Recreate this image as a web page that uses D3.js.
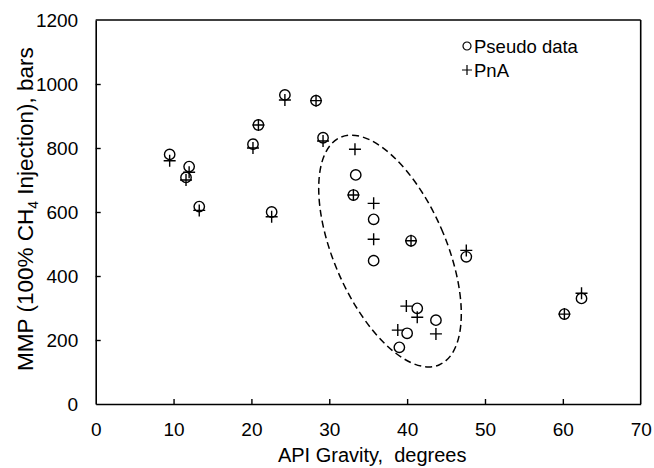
<!DOCTYPE html>
<html>
<head>
<meta charset="utf-8">
<script src="https://cdn.jsdelivr.net/npm/d3@7"></script>
<style>
  body { margin: 0; background: #fff; }
  svg text { font-family: "Liberation Sans", Arial, sans-serif; fill: #000; }
</style>
</head>
<body>
<svg id="chart" width="654" height="468"></svg>
<script>
// pseudo data (circles)
let pseudoX = [9.5, 12.0, 11.6, 13.3, 20.2, 20.9, 22.6, 24.3, 28.3, 29.2, 33.4, 33.1, 35.7, 35.7, 40.5, 47.6, 41.3, 43.7, 40.0, 39.0, 60.2, 62.4];
let pseudoY = [780, 742, 708, 617, 812, 872, 600, 966, 948, 832, 716, 653, 577, 448, 510, 460, 299, 262, 221, 177, 281, 330];
// PnA (plus signs)
let pnaX = [9.5, 12.0, 11.6, 13.3, 20.2, 20.9, 22.6, 24.3, 28.3, 29.2, 33.3, 33.1, 35.7, 35.7, 40.5, 47.6, 39.9, 41.3, 43.7, 38.8, 60.2, 62.4];
let pnaY = [760, 724, 700, 605, 800, 872, 585, 950, 948, 822, 796, 653, 627, 515, 510, 480, 306, 271, 219, 231, 281, 346];

let xTicks = [0, 10, 20, 30, 40, 50, 60, 70];
let yTicks = [0, 200, 400, 600, 800, 1000, 1200];

const margin = {left: 95.7, top: 20, right: 13.3, bottom: 64};
const W = 654 - margin.left - margin.right;
const H = 468 - margin.top - margin.bottom;

let svg = d3.select('#chart');
let g = svg.append('g').attr('transform', 'translate(' + margin.left + ',' + margin.top + ')');

let x = d3.scaleLinear().domain([0, 70]).range([0, W]);
let y = d3.scaleLinear().domain([0, 1200]).range([H, 0]);

// axes, ticks point inward
let xAxis = d3.axisBottom(x).tickValues(xTicks).tickFormat(d3.format('d')).tickSizeInner(-5).tickSizeOuter(0).tickPadding(18.5);
let yAxis = d3.axisLeft(y).tickValues(yTicks).tickFormat(d3.format('d')).tickSizeInner(-5).tickSizeOuter(0).tickPadding(17.5);

let gx = g.append('g').attr('transform', 'translate(0,' + H + ')').call(xAxis);
let gy = g.append('g').call(yAxis);
[gx, gy].forEach(a => {
  a.selectAll('path').attr('stroke', '#000').attr('stroke-width', 1.6);
  a.selectAll('line').attr('stroke', '#000').attr('stroke-width', 1.4);
  a.selectAll('text').attr('font-size', 19).attr('font-family', '"Liberation Sans", Arial, sans-serif').attr('fill', '#000');
});
gx.selectAll('.tick').filter(d => d == 0 || d == 70).select('line').remove();
gy.selectAll('.tick').filter(d => d == 0 || d == 1200).select('line').remove();

// frame top and right
g.append('line').attr('x1', 0).attr('x2', W).attr('y1', 0).attr('y2', 0).attr('stroke', '#000').attr('stroke-width', 1.6);
g.append('line').attr('x1', W).attr('x2', W).attr('y1', 0).attr('y2', H).attr('stroke', '#000').attr('stroke-width', 1.6);

// dashed ellipse round the cluster
let ellCx = 37.8, ellCy = 478;
g.append('ellipse')
  .attr('cx', 0).attr('cy', 0).attr('rx', 56).attr('ry', 124)
  .attr('transform', 'translate(' + x(ellCx) + ',' + y(ellCy) + ') rotate(-23.5)')
  .attr('fill', 'none').attr('stroke', '#000').attr('stroke-width', 1.5)
  .attr('stroke-dasharray', '7,4');

// circles
g.append('g').selectAll('circle')
  .data(pseudoX.map((d, i) => [d, pseudoY[i]]))
  .join('circle')
  .attr('cx', d => x(d[0])).attr('cy', d => y(d[1])).attr('r', 5.2)
  .attr('fill', 'none').attr('stroke', '#000').attr('stroke-width', 1.4);

// plus signs
const ps = 6;
g.append('g').selectAll('path')
  .data(pnaX.map((d, i) => [d, pnaY[i]]))
  .join('path')
  .attr('d', d => {
    let cx = x(d[0]), cy = y(d[1]);
    return 'M' + (cx - ps) + ',' + cy + 'H' + (cx + ps) + 'M' + cx + ',' + (cy - ps) + 'V' + (cy + ps);
  })
  .attr('fill', 'none').attr('stroke', '#000').attr('stroke-width', 1.4);

// legend
let leg = svg.append('g').attr('transform', 'translate(467,46)');
leg.append('circle').attr('cx', 0).attr('cy', 0).attr('r', 4).attr('fill', 'none').attr('stroke', '#000').attr('stroke-width', 1.2);
leg.append('text').attr('x', 7).attr('y', 6.5).attr('font-size', 18.5).text('Pseudo data');
leg.append('path').attr('d', 'M-5,24H5M0,19V29').attr('stroke', '#000').attr('stroke-width', 1.2);
leg.append('text').attr('x', 7).attr('y', 30.5).attr('font-size', 18.5).text('PnA');

// axis titles
svg.append('text').attr('x', margin.left + W / 2 + 4).attr('y', 462)
  .attr('text-anchor', 'middle').attr('font-size', 20)
  .attr('xml:space', 'preserve').text('API Gravity,  degrees');

let yt = svg.append('text').attr('transform', 'translate(33,' + (margin.top + H / 2 - 3) + ') rotate(-90)')
  .attr('text-anchor', 'middle').attr('font-size', 22.5);
yt.append('tspan').text('MMP (100% CH');
yt.append('tspan').attr('font-size', 14).attr('dy', 5).text('4');
yt.append('tspan').attr('dy', -5).text(' Injection), bars');
</script>
</body>
</html>
